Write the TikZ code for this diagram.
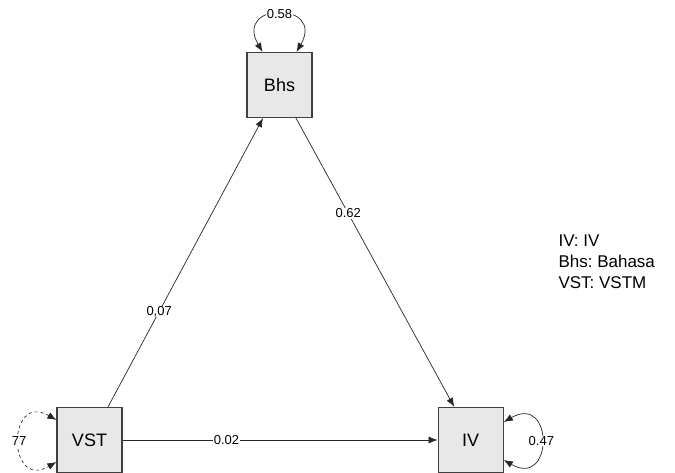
\documentclass[tikz,border=0pt]{standalone}
\usepackage{fontspec}
\setmainfont{Liberation Sans}
\usetikzlibrary{positioning}
\usetikzlibrary{arrows.meta}
\frenchspacing
\tikzset{
	>={Latex[length=9pt,width=7pt]},
	var/.style={
		rectangle,
		draw=black!75, line width=1.2pt,
		fill=black!9,
		minimum width=65pt,
		minimum height=65pt,
		font=\fontsize{18}{20}\selectfont},
	effect/.style={draw=black!85, line width=0.7pt, ->},
	resvar/.style={draw=black!85, line width=0.7pt, <->},
	coef/.style={fill=white, inner sep=0.5pt, font=\fontsize{13}{15}\selectfont},
}

\begin{document}
\begin{tikzpicture}[x=1pt,y=1pt]
	\useasboundingbox (0,0) rectangle (675,472);
	\node[var] (bhs) at (279.5,387) {Bhs};
	\node[var] (vst) at (89.5,32) {VST};
	\node[var, right=315pt of vst] (iv) {IV};

	% paths
	\draw[effect] ([xshift=18.5pt]vst.north) -- node[coef, pos=0.33] {0,07} ([xshift=-16.5pt]bhs.south);
	\draw[effect] ([xshift=16.5pt]bhs.south) -- node[coef, pos=0.33] {0.62} ([xshift=-16.5pt]iv.north);
	\draw[effect] (vst) -- node[coef, pos=0.33] {0.02} (iv);

	% residual variances
	\draw[resvar] ([xshift=-17pt]bhs.north) to[out=120, in=60, looseness=4.4] node[coef] {0.58} ([xshift=17pt]bhs.north);
	\draw[resvar, dashed] ([yshift=20pt]vst.west) to[out=150, in=210, looseness=3.5] node[coef] {77} ([yshift=-22pt]vst.west);
	\draw[resvar] ([yshift=18pt]iv.east) to[out=30, in=-30, looseness=3.9] node[coef] {0.47} ([yshift=-20pt]iv.east);

	\node[anchor=west, align=left, font=\fontsize{17}{21}\selectfont] (legend) at (555,210) {IV: IV\\Bhs: Bahasa\\VST: VSTM};
\end{tikzpicture}
\end{document}
